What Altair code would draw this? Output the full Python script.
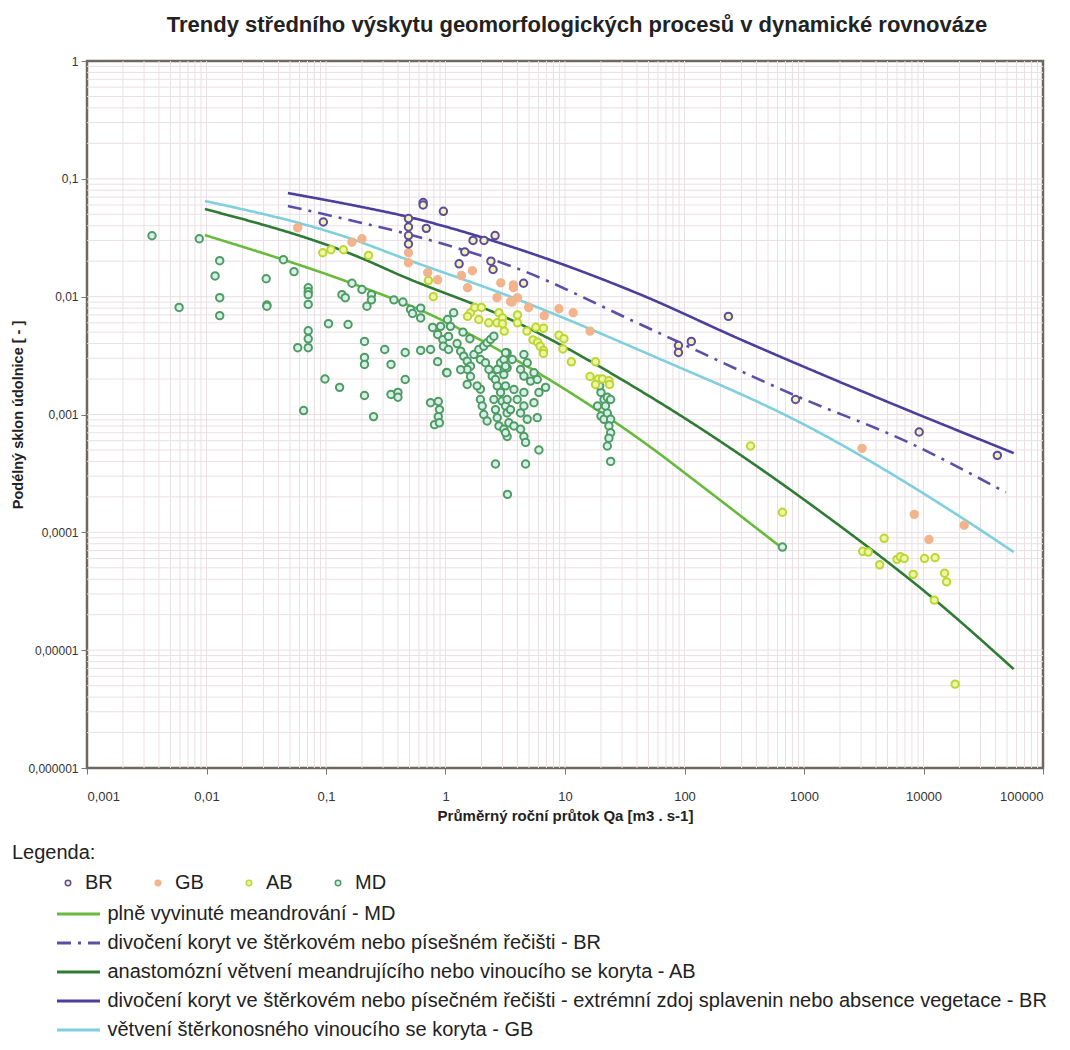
import altair as alt
import pandas as pd

# ---------------- data ----------------
CLASSES = ["BR", "GB", "AB", "MD"]

BR_x = [0.095, 0.65, 0.65, 0.96, 0.49, 0.49, 0.49, 0.49, 0.69, 1.7, 2.1, 2.6, 1.45, 1.3, 2.4, 2.5,
        4.5, 233, 89, 89, 114, 850, 9200, 41500]
BR_y = [0.043, 0.063, 0.060, 0.053, 0.046, 0.039, 0.033, 0.028, 0.038, 0.030, 0.030, 0.033, 0.024,
        0.019, 0.020, 0.017, 0.013, 0.0068, 0.00385, 0.00336, 0.00417, 0.00134, 0.00071, 0.00045]

GB_x = [0.058, 0.165, 0.2, 0.49, 0.49, 0.71, 0.86, 1.36, 1.68, 1.53, 2.9, 3.7, 2.7, 3.5, 4.0, 3.7,
        3.6, 4.96, 6.7, 8.9, 11.7, 16.2, 3060, 8370, 11100, 21900]
GB_y = [0.0385, 0.029, 0.031, 0.0236, 0.0194, 0.016, 0.0139, 0.0151, 0.0166, 0.0119, 0.0131, 0.0126,
        0.0098, 0.0091, 0.0098, 0.0119, 0.009, 0.0081, 0.0069, 0.0079, 0.0073, 0.0051, 0.000516,
        0.000142, 0.000087, 0.000115]

AB_x = [0.094, 0.11, 0.14, 0.227, 0.72, 0.79, 1.62, 1.76, 2.0, 1.53, 1.9, 2.3, 2.7, 2.8, 3.0, 3.1,
        3.0, 4.0, 4.0, 4.8, 5.7, 6.6, 5.4, 5.9, 6.2, 6.6, 6.6, 8.9, 9.8, 9.6, 11.3, 18, 16.2, 19,
        20.6, 23.3, 18, 23.6, 357, 660, 4680, 3100, 3450, 4300, 6000, 6400, 6900, 8200, 10200,
        12500, 15000, 15600, 12300, 18400]
AB_y = [0.0236, 0.025, 0.025, 0.0224, 0.0137, 0.010, 0.0073, 0.0081, 0.0081, 0.0068, 0.0064, 0.006,
        0.006, 0.0073, 0.0066, 0.0051, 0.0059, 0.0070, 0.0060, 0.0051, 0.0055, 0.0054, 0.0043,
        0.0041, 0.0038, 0.0035, 0.0033, 0.0047, 0.0044, 0.0036, 0.0028, 0.0028, 0.0021, 0.002,
        0.002, 0.00194, 0.0018, 0.0018, 0.00054, 0.000148, 0.000089, 0.000069, 0.000068,
        0.000053, 0.000059, 0.000062, 0.00006, 0.000044, 0.00006, 0.000061, 0.000045, 0.000038,
        0.0000266, 0.00000515]

MD_x = [0.0035, 0.0087, 0.0059, 0.0129, 0.0118, 0.0129, 0.0129, 0.0316, 0.032, 0.032, 0.044, 0.054,
        0.071, 0.071, 0.071, 0.071, 0.071, 0.071, 0.071, 0.058, 0.105, 0.153, 0.098, 0.13, 0.065,
        0.165, 0.136, 0.145,
        0.2, 0.24, 0.24, 0.22, 0.37, 0.44, 0.51, 0.53, 0.62, 0.62,
        0.21, 0.21, 0.21, 0.31, 0.35, 0.46, 0.46, 0.62, 0.75, 0.86, 1.02,
        0.21, 0.35, 0.4, 0.4, 0.25,
        0.75, 0.87, 0.89, 0.87, 0.81, 0.89,
        0.78, 0.86, 0.95, 0.91, 1.04, 1.1, 1.17, 1.06, 0.96, 1.06,
        1.34, 1.42, 1.52, 1.62, 1.52, 1.73, 1.9, 2.09, 2.23, 2.38, 2.54, 1.96, 2.16, 2.31, 2.46,
        2.62, 2.71, 2.89, 3.08, 3.28, 3.28, 3.08, 2.71, 2.89, 2.98, 3.18, 3.28, 3.39, 1.96, 1.96,
        2.03, 2.09, 2.23, 2.54, 2.62, 2.71, 2.8, 3.08, 3.28, 1.52, 1.03, 1.34, 1.62, 1.84,
        1.4, 1.6, 1.25, 2.62, 3.3,
        3.18, 3.18, 3.62, 4.53, 4.83, 4.25, 4.53, 5.5, 5.15, 5.86, 3.18, 3.74, 3.28, 3.98, 4.53,
        4.53, 5.5, 6.05, 6.88, 3.5, 4.25, 4.83, 3.74, 4.25, 3.18, 4.53, 4.68, 5.86, 6.05, 4.68,
        20, 21.2, 22.6, 24.1, 18.7, 20, 21.2, 22.6, 24.1, 23.3, 24.1, 23.3, 22.6, 24.1, 19.5,
        21.8, 660]
MD_y = [0.0329, 0.031, 0.0081, 0.0202, 0.015, 0.0098, 0.0069, 0.0142, 0.0085, 0.0083, 0.0206,
        0.0163, 0.0119, 0.011, 0.0104, 0.0086, 0.00513, 0.00439, 0.00369, 0.00369, 0.0059, 0.0058,
        0.002, 0.0017, 0.00108, 0.013, 0.0104, 0.0098,
        0.0115, 0.0104, 0.0094, 0.0083, 0.0094, 0.009, 0.0078, 0.0072, 0.008, 0.0066,
        0.00417, 0.00305, 0.00266, 0.00356, 0.00266, 0.00336, 0.00198, 0.0035, 0.00356, 0.00281,
        0.00227,
        0.00145, 0.00148, 0.00154, 0.0014, 0.00096,
        0.00126, 0.00129, 0.0011, 0.00096, 0.00082, 0.00085,
        0.00548, 0.00478, 0.00432, 0.0056, 0.0064, 0.0056, 0.0073, 0.0046, 0.0038, 0.00356,
        0.00345, 0.00313, 0.00284, 0.00257, 0.00241, 0.00323, 0.00356, 0.0038, 0.00406, 0.00433,
        0.00462, 0.00293, 0.00275, 0.00241, 0.00212, 0.00198, 0.00241, 0.00275, 0.00293, 0.00334,
        0.00249, 0.00218, 0.00175, 0.00154, 0.0013, 0.00118, 0.00103, 0.00085, 0.00164, 0.00134,
        0.00118, 0.001, 0.00088, 0.00134, 0.0011, 0.00094, 0.0008, 0.00075, 0.00065, 0.0018,
        0.00226, 0.0024, 0.0021, 0.00175,
        0.0050, 0.0044, 0.0040, 0.00038, 0.00021,
        0.00334, 0.00257, 0.00293, 0.00323, 0.00275, 0.00241, 0.00212, 0.00226, 0.00192, 0.00198,
        0.00175, 0.00163, 0.00134, 0.00134, 0.00154, 0.00118, 0.00126, 0.00154, 0.0017, 0.0011,
        0.00103, 0.00091, 0.0008, 0.00075, 0.0007, 0.00065, 0.00058, 0.00094, 0.0005, 0.00038,
        0.00154, 0.00134, 0.0014, 0.00134, 0.00118, 0.00097, 0.00091, 0.00103, 0.00091, 0.0008,
        0.0007, 0.00063, 0.00054, 0.0004, 0.00175, 0.00118, 0.000075]

# trend curves
L_MD = "plně vyvinuté meandrování - MD"
L_BRD = "divočení koryt ve štěrkovém nebo písešném řečišti - BR"
L_AB = "anastomózní větvení  meandrujícího nebo vinoucího se koryta - AB"
L_BRS = "divočení koryt ve štěrkovém nebo písečném řečišti - extrémní zdoj splavenin nebo absence vegetace - BR"
L_GB = "větvení štěrkonosného vinoucího se koryta - GB"
LINE_ORDER = [L_MD, L_BRD, L_AB, L_BRS, L_GB]

MD_line_x = [0.0097, 0.194, 0.615, 4.25, 52, 136, 662]
MD_line_y = [0.0333, 0.0122, 0.0077, 0.00276, 0.000528, 0.000252, 0.000073]
BRD_line_x = [0.048, 0.18, 0.418, 4.25, 43, 885, 7450, 48800]
BRD_line_y = [0.0588, 0.0433, 0.0353, 0.0169, 0.0058, 0.00142, 0.000581, 0.000218]
AB_line_x = [0.0097, 0.194, 0.418, 4.0, 52, 1680, 12300, 56900]
AB_line_y = [0.0554, 0.0214, 0.0152, 0.006, 0.00141, 0.000129, 0.000027, 0.0000069]
BRS_line_x = [0.048, 0.194, 0.418, 4.25, 43, 295, 2040, 56900]
BRS_line_y = [0.0757, 0.058, 0.0493, 0.025, 0.0104, 0.00433, 0.00187, 0.00047]
GB_line_x = [0.0097, 0.17, 0.418, 3.5, 52, 1080, 21900, 56900]
GB_line_y = [0.0648, 0.0305, 0.0217, 0.010, 0.0032, 0.00079, 0.000129, 0.000068]

X_TICKS = [0.001, 0.01, 0.1, 1, 10, 100, 1000, 10000, 100000]
Y_TICKS = [0.000001, 0.00001, 0.0001, 0.001, 0.01, 0.1, 1]

# ---------------- styles ----------------
PT_STROKE = ["#5a4ca0", "#f2b48c", "#bcd634", "#4f9c63"]
PT_FILL = ["#f6f2b0", "#f2b48c", "#eef6a6", "#d9efec"]
LINE_COL = ["#66bb3a", "#5a50a8", "#2e7b34", "#4b3f9c", "#7fcfdc"]
LINE_DASH = [[1, 0], [14, 7, 3, 7], [1, 0], [1, 0], [1, 0]]
FONT = "Liberation Sans"
LEG_FS = 20

# ---------------- tables ----------------
pts = pd.concat([
    pd.DataFrame({"x": MD_x, "y": MD_y, "cls": "MD"}),
    pd.DataFrame({"x": AB_x, "y": AB_y, "cls": "AB"}),
    pd.DataFrame({"x": GB_x, "y": GB_y, "cls": "GB"}),
    pd.DataFrame({"x": BR_x, "y": BR_y, "cls": "BR"}),
], ignore_index=True)

lines = pd.concat([
    pd.DataFrame({"x": xs, "y": ys, "line": name, "i": range(len(xs))})
    for name, xs, ys in [
        (L_MD, MD_line_x, MD_line_y), (L_BRD, BRD_line_x, BRD_line_y),
        (L_AB, AB_line_x, AB_line_y), (L_BRS, BRS_line_x, BRS_line_y),
        (L_GB, GB_line_x, GB_line_y)]
], ignore_index=True)

grid_x = [m * 10 ** k for k in range(-3, 5) for m in range(1, 10)][1:]
grid_y = [m * 10 ** k for k in range(-6, 0) for m in range(1, 10)][1:]

xs = alt.Scale(type="log", domain=[0.001, 100000], nice=False)
ys = alt.Scale(type="log", domain=[0.000001, 1], nice=False)
lab = "replace(format(datum.value, '.6~f'), '.', ',')"

x_enc = alt.X("x:Q", scale=xs, axis=alt.Axis(
    values=X_TICKS, labelExpr=lab, grid=False, domain=False, tickSize=6, tickColor="#777",
    labelPadding=16, labelFontSize=13, labelColor="#333", labelFont=FONT,
    title="Průměrný roční průtok Qa [m3 . s-1]", titleFont=FONT, titleFontSize=15,
    titleFontWeight="bold", titleColor="#222", titlePadding=5))
y_enc = alt.Y("y:Q", scale=ys, axis=alt.Axis(
    values=Y_TICKS, labelExpr=lab, grid=False, domain=False, tickSize=6, tickColor="#777",
    labelPadding=3, labelFontSize=12, labelColor="#333", labelFont=FONT,
    title="Podélný sklon údolnice [ - ]", titleFont=FONT, titleFontSize=14.5,
    titleFontWeight="bold", titleColor="#222", titleX=-69, titleBaseline="middle"))

gx = alt.Chart(pd.DataFrame({"g": grid_x})).mark_rule(color="#eadfe2", strokeWidth=1).encode(
    x=alt.X("g:Q", scale=xs))
gy = alt.Chart(pd.DataFrame({"g": grid_y})).mark_rule(color="#eadfe2", strokeWidth=1).encode(
    y=alt.Y("g:Q", scale=ys))

# a long horizontal stroke as legend symbol: path units are scaled by sqrt(size)/2
LEG_LINE_PATH = "M-4.3,0L4.3,0"


def line_legend():
    return alt.Legend(title=None, orient="none", legendX=-18.5, legendY=843,
                      symbolType=LEG_LINE_PATH, symbolSize=100, symbolStrokeWidth=3,
                      labelFontSize=LEG_FS, labelFont=FONT, labelColor="#222",
                      labelLimit=1200, rowPadding=9, labelOffset=19, padding=0)


line_layer = alt.Chart(lines).mark_line(strokeWidth=2.6, interpolate="monotone").encode(
    x=x_enc, y=y_enc,
    color=alt.Color("line:N", scale=alt.Scale(domain=LINE_ORDER, range=LINE_COL),
                    legend=line_legend()),
    strokeDash=alt.StrokeDash("line:N", scale=alt.Scale(domain=LINE_ORDER, range=LINE_DASH),
                              legend=line_legend()),
    order="i:Q",
)

pt_legend = alt.Legend(title=None, orient="none", legendX=-29, legendY=812, direction="horizontal",
                       columns=4, columnPadding=35, symbolSize=30, symbolStrokeWidth=1.5,
                       labelFontSize=LEG_FS, labelFont=FONT, labelColor="#222", labelOffset=7,
                       padding=0)
pt_layer = alt.Chart(pts).mark_point(shape="circle", size=55, strokeWidth=2, opacity=1,
                                     fillOpacity=1).encode(
    x=x_enc, y=y_enc,
    fill=alt.Fill("cls:N", scale=alt.Scale(domain=CLASSES, range=PT_FILL), legend=pt_legend),
    stroke=alt.Stroke("cls:N", scale=alt.Scale(domain=CLASSES, range=PT_STROKE), legend=pt_legend),
)

legend_title = alt.Chart(alt.Data(values=[{}])).mark_text(
    text="Legenda:", align="left", baseline="middle", fontSize=LEG_FS, font=FONT,
    color="#222").encode(x=alt.value(-75), y=alt.value(792))

chart = alt.layer(gx, gy, line_layer, pt_layer, legend_title).properties(
    width=956, height=707,
    autosize=alt.AutoSizeParams(type="none"),
    padding={"left": 79, "top": 53, "right": 19, "bottom": 274},
    title=alt.TitleParams("Trendy středního výskytu geomorfologických procesů v dynamické rovnováze",
                          font=FONT, fontSize=22, fontWeight="bold", color="#222", offset=18,
                          dx=12, anchor="middle"),
).configure_view(stroke="#6f6862", strokeWidth=2.5)

chart.save("out.html", embed_options={"renderer": "svg", "actions": False})
